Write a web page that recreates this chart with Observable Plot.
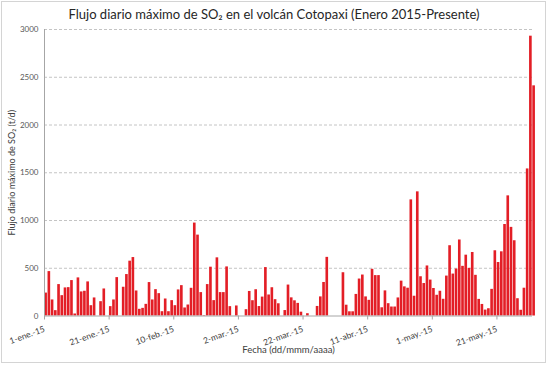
<!DOCTYPE html>
<html><head><meta charset="utf-8">
<script src="https://cdn.jsdelivr.net/npm/d3@7"></script>
<script src="https://cdn.jsdelivr.net/npm/@observablehq/plot@0.6"></script>
<style>
body{margin:0;background:#fff;}
#wrap{position:relative;width:547px;height:390px;font-family:Lato,"Open Sans",sans-serif;}
#frame{position:absolute;left:1px;top:1px;width:543px;height:360px;border:1px solid #d4d4d4;}
#title{position:absolute;left:0;top:6px;width:548px;text-align:center;font-size:13px;color:#262626;}
#chart{position:absolute;left:0;top:0;}
</style></head><body>
<div id="wrap"><div id="frame"></div><div id="chart"></div><div id="title">Flujo diario máximo de SO₂ en el volcán Cotopaxi (Enero 2015-Presente)</div></div>
<script>
const startDate = "2015-01-01";
const endDate = "2015-06-01";
// daily maximum SO2 flux (t/d), 1 Jan 2015 .. 31 May 2015 (0 = no measurement)
const values = [
  240,465,168,56,329,213,294,297,371,21,
  399,252,259,357,108,189,0,150,283,0,
  98,168,402,0,301,434,574,612,262,70,
  80,122,350,168,276,234,45,178,45,161,
  108,273,318,84,115,290,973,847,245,5,
  329,511,161,609,245,245,514,98,0,105,
  0,0,66,257,160,275,99,198,507,220,
  296,171,128,0,57,324,190,159,132,40,
  0,24,0,0,100,200,351,614,0,0,
  0,0,453,113,44,44,226,387,429,200,
  164,489,423,423,86,263,129,94,94,189,
  365,305,291,1216,207,1300,411,340,524,376,
  288,217,259,175,418,736,439,492,796,520,
  637,499,665,426,174,121,62,76,279,683,
  560,672,958,1258,928,788,181,60,291,1540,
  2930,2410
];
const tickDates = ["2015-01-01","2015-01-21","2015-02-10","2015-03-02","2015-03-22","2015-04-11","2015-05-01","2015-05-21"];
const tickLabels = ["1-ene.-15","21-ene.-15","10-feb.-15","2-mar.-15","22-mar.-15","11-abr.-15","1-may.-15","21-may.-15"];
const yTicks = [0,500,1000,1500,2000,2500,3000];
const yTitle = "Flujo diario máximo de SO₂ (t/d)";
const xTitle = "Fecha (dd/mmm/aaaa)";

const start = new Date(startDate);
const data = values.map((v,i)=>({date: d3.utcDay.offset(start, i), value: v}));
const labelByTime = new Map(tickDates.map((d,i)=>[+new Date(d), tickLabels[i]]));

const chart = Plot.plot({
  width: 547, height: 390,
  marginLeft: 44, marginRight: 15, marginTop: 29, marginBottom: 74.5,
  style: {fontFamily: "Lato, 'Open Sans', sans-serif", background: "transparent", color: "#404040"},
  x: {type: "utc", domain: [start, new Date(endDate)]},
  y: {domain: [0, 3000]},
  marks: [
    Plot.ruleY(yTicks.filter(d=>d>0), {stroke:"#c4c4c4", strokeDasharray:"3,2"}),
    Plot.rectY(data, {x: "date", y: "value", interval: "day", fill: "#e31e26", insetLeft: 0.3, insetRight: 0.3}),
    Plot.ruleX([start], {stroke:"#a6a6a6"}),
    Plot.ruleY([0], {stroke:"#a6a6a6"}),
    Plot.axisY({ticks: yTicks, tickFormat: d3.format("d"), tickSize: 0, tickPadding: 6, fontSize: 8, fill:"#595959", label: null}),
    Plot.axisX({ticks: tickDates.map(d=>new Date(d)), tickFormat: d=>labelByTime.get(+d), tickRotate: -20, tickSize: 4,
      stroke:"#a6a6a6", fontSize: 8.5, fill:"#404040", label: null}),
    Plot.text([yTitle], {frameAnchor: "left", textAnchor: "middle", lineAnchor: "middle", rotate: -90, dx: -32, fontSize: 9, fill: "#404040"}),
    Plot.text([xTitle], {frameAnchor: "bottom", textAnchor: "middle", dy: 36.5, fontSize: 9.5, fill: "#404040"})
  ]
});
document.getElementById("chart").appendChild(chart);
</script>
</body></html>
